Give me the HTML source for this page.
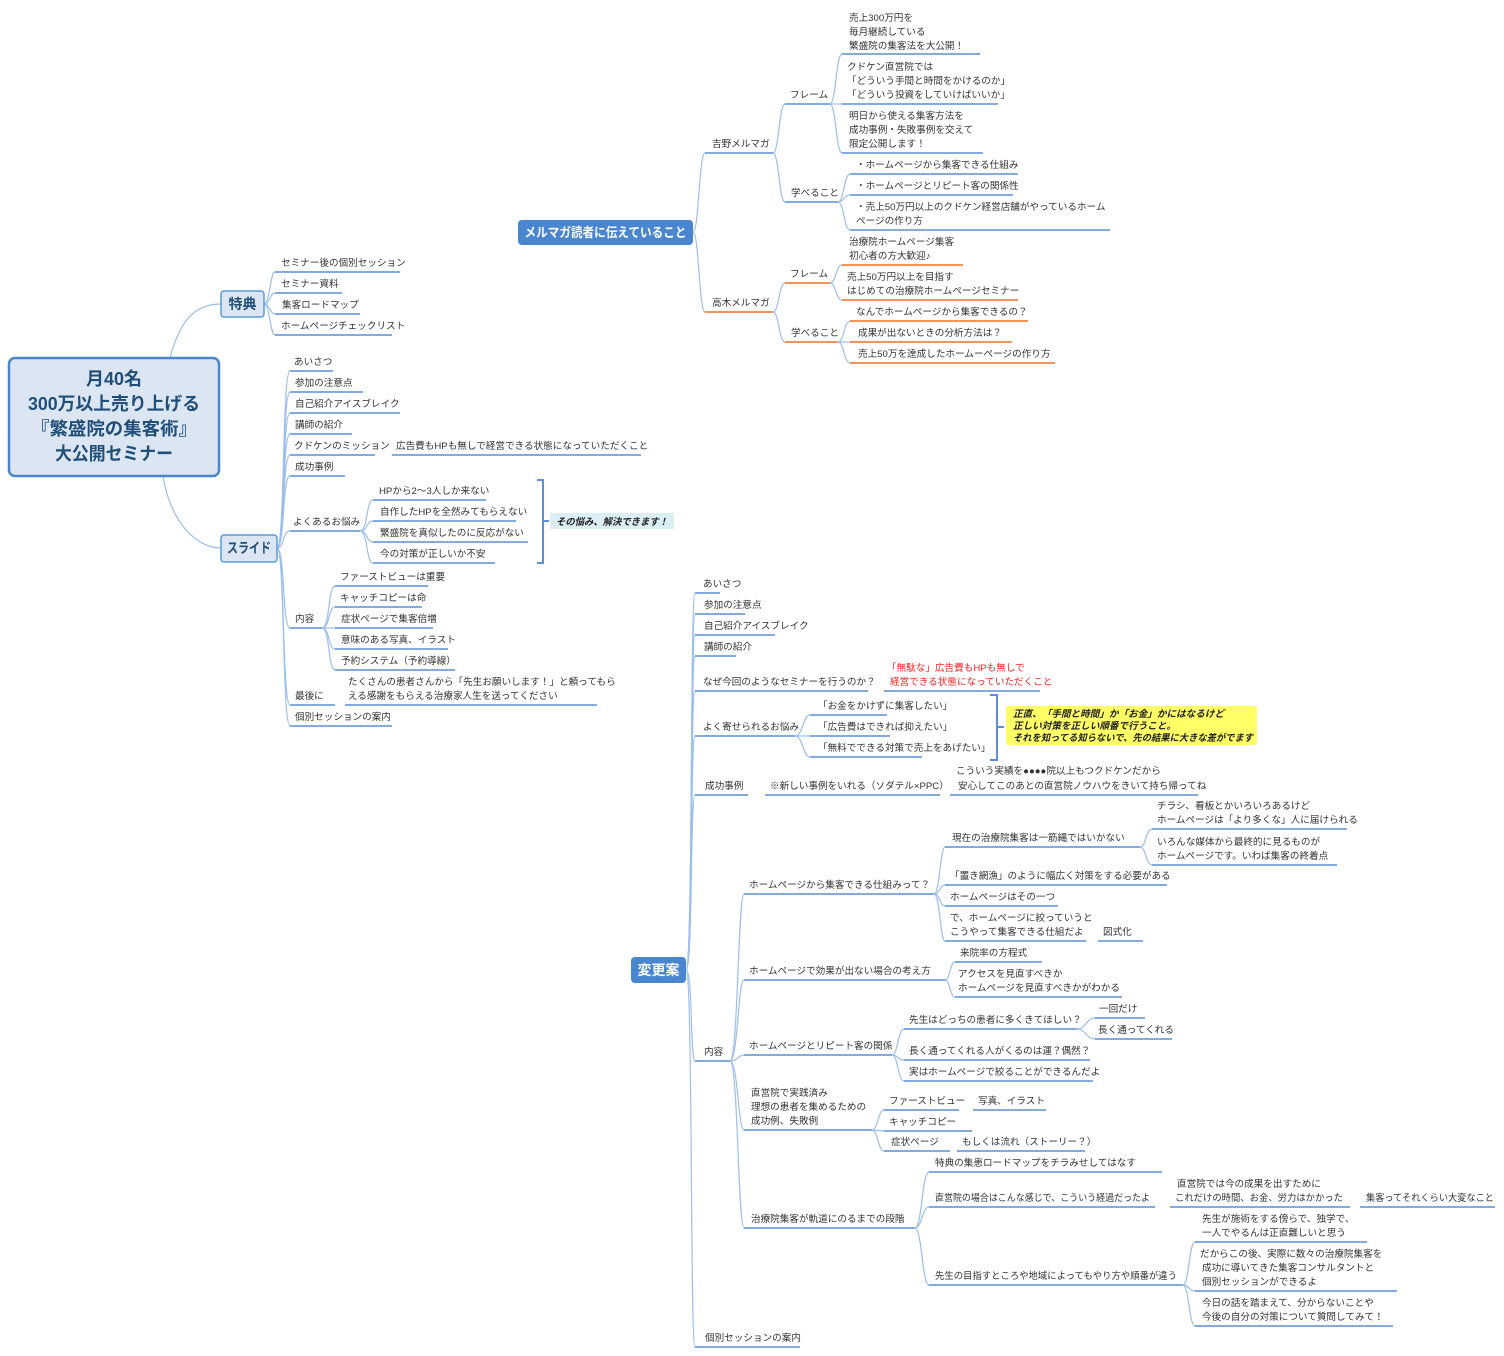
<!DOCTYPE html>
<html><head><meta charset="utf-8"><style>
html,body{margin:0;padding:0;background:#fff;}
svg{display:block;font-family:"Liberation Sans","Noto Sans CJK JP",sans-serif;}
.t{font-size:9.6px;fill:#333;}
.u{stroke:#5b8fd6;stroke-width:1.6;}
.o{stroke:#f07020;stroke-width:1.6;}
.c{fill:none;stroke:#9dbfe9;stroke-width:1.2;}
</style></head><body>
<svg width="1504" height="1356" viewBox="0 0 1504 1356" xmlns="http://www.w3.org/2000/svg">
<g class="c">
<path d="M693 232 C699 232,699 153,705 153"/><path d="M693 232 C699 232,699 312,705 312"/>
<path d="M773 153 C779 153,779 104,785 104"/><path d="M773 153 C779 153,779 202,785 202"/>
<path d="M830 104 C836 104,836 54,842 54"/><path d="M830 104 L842 104"/><path d="M830 104 C836 104,836 153,842 153"/>
<path d="M838 202 C844 202,844 174,850 174"/><path d="M838 202 C844 202,844 195,850 195"/><path d="M838 202 C844 202,844 230,850 230"/>
<path d="M773 312 C779 312,779 283,785 283"/><path d="M773 312 C779 312,779 342,785 342"/>
<path d="M830 283 C836 283,836 265,842 265"/><path d="M830 283 C836 283,836 300,842 300"/>
<path d="M838 342 C844 342,844 321,850 321"/><path d="M838 342 L850 342"/><path d="M838 342 C844 342,844 363,850 363"/>
<path d="M170 358 C180 320,195 304,221 304"/><path d="M163 476 C170 520,195 548,221 548"/>
<path d="M264 304 C270 304,270 272,275 272"/><path d="M264 304 C270 304,270 293,275 293"/><path d="M264 304 C270 304,270 314,275 314"/><path d="M264 304 C270 304,270 335,275 335"/>
<path d="M277 548 C285 548,282 371,290 371"/><path d="M277 548 C285 548,282 392,290 392"/><path d="M277 548 C285 548,282 413,290 413"/><path d="M277 548 C285 548,282 434,290 434"/><path d="M277 548 C285 548,282 455,290 455"/><path d="M277 548 C285 548,282 476,290 476"/><path d="M277 548 C285 548,282 531,290 531"/><path d="M277 548 C285 548,282 628,290 628"/><path d="M277 548 C285 548,282 705,290 705"/><path d="M277 548 C285 548,282 726,290 726"/>
<path d="M360 531 C368 531,366 500,373 500"/><path d="M360 531 C368 531,366 521,373 521"/><path d="M360 531 C368 531,366 542,373 542"/><path d="M360 531 C368 531,366 563,373 563"/>
<path d="M322 628 C330 628,328 586,335 586"/><path d="M322 628 C330 628,328 607,335 607"/><path d="M322 628 L335 628"/><path d="M322 628 C330 628,328 649,335 649"/><path d="M322 628 C330 628,328 670,335 670"/>
<path d="M686 970 C693 970,690 593,695 593"/><path d="M686 970 C693 970,690 614,695 614"/><path d="M686 970 C693 970,690 635,695 635"/><path d="M686 970 C693 970,690 656,695 656"/><path d="M686 970 C693 970,690 691,695 691"/><path d="M686 970 C693 970,690 736,695 736"/><path d="M686 970 C693 970,690 795,695 795"/><path d="M686 970 C693 970,690 1061,695 1061"/><path d="M686 970 C693 970,690 1347,695 1347"/>
<path d="M795 736 C803 736,803 715,810 715"/><path d="M795 736 L810 736"/><path d="M795 736 C803 736,803 757,810 757"/>
<path d="M730 1061 C738 1061,738 894,744 894"/><path d="M730 1061 C738 1061,738 980,744 980"/><path d="M730 1061 C738 1061,738 1055,744 1055"/><path d="M730 1061 C738 1061,738 1130,744 1130"/><path d="M730 1061 C738 1061,738 1228,744 1228"/>
<path d="M934 894 C940 894,940 847,945 847"/><path d="M934 894 C940 894,940 885,945 885"/><path d="M934 894 C940 894,940 906,945 906"/><path d="M934 894 C940 894,940 941,945 941"/>
<path d="M1140 847 C1146 847,1146 829,1152 829"/><path d="M1140 847 C1146 847,1146 865,1152 865"/>
<path d="M945 980 C950 980,950 962,955 962"/><path d="M945 980 C950 980,950 997,955 997"/>
<path d="M892 1055 C898 1055,898 1029,904 1029"/><path d="M892 1055 C898 1055,898 1060,904 1060"/><path d="M892 1055 C898 1055,898 1081,904 1081"/>
<path d="M1077 1029 C1086 1029,1086 1018,1095 1018"/><path d="M1077 1029 C1086 1029,1086 1039,1095 1039"/>
<path d="M872 1130 C878 1130,878 1110,884 1110"/><path d="M872 1130 L884 1131"/><path d="M872 1130 C878 1130,878 1151,884 1151"/>
<path d="M915 1228 C922 1228,922 1172,929 1172"/><path d="M915 1228 C922 1228,922 1207,929 1207"/><path d="M915 1228 C922 1228,922 1285,929 1285"/>
<path d="M1183 1285 C1189 1285,1189 1242,1195 1242"/><path d="M1183 1285 C1189 1285,1189 1291,1195 1291"/><path d="M1183 1285 C1189 1285,1189 1326,1195 1326"/>
</g>
<rect x="9" y="358" width="210" height="118" rx="6" fill="#dce6f2" stroke="#4a86d0" stroke-width="2.5"/>
<g font-size="18" font-weight="bold" fill="#1f4e79" text-anchor="middle">
<text x="114" y="385">月40名</text><text x="114" y="410" textLength="172" lengthAdjust="spacingAndGlyphs">300万以上売り上げる</text><text x="114" y="435" textLength="166" lengthAdjust="spacingAndGlyphs">『繁盛院の集客術』</text><text x="114" y="460" textLength="118" lengthAdjust="spacingAndGlyphs">大公開セミナー</text></g>
<rect x="221" y="291" width="43" height="26" rx="3" fill="#dce6f2" stroke="#5b9bd5" stroke-width="1.5"/>
<text x="242.5" y="309" font-size="14" font-weight="bold" fill="#1f4e79" text-anchor="middle">特典</text>
<rect x="221" y="535" width="56" height="27" rx="3" fill="#dce6f2" stroke="#5b9bd5" stroke-width="1.5"/>
<text x="249" y="553" font-size="14" font-weight="bold" fill="#1f4e79" text-anchor="middle" textLength="44" lengthAdjust="spacingAndGlyphs">スライド</text>
<rect x="518" y="220" width="175" height="25" rx="4" fill="#4a86d0"/>
<text x="605.5" y="237" font-size="13" font-weight="bold" fill="#fff" text-anchor="middle" textLength="162" lengthAdjust="spacingAndGlyphs">メルマガ読者に伝えていること</text>
<rect x="631" y="957" width="55" height="26" rx="4" fill="#4a86d0"/>
<text x="658.5" y="975" font-size="14" font-weight="bold" fill="#fff" text-anchor="middle">変更案</text>
<rect x="550" y="513" width="124" height="16" fill="#dbeef4"/>
<text x="556" y="525" font-size="9.6" font-weight="bold" font-style="italic" fill="#222" textLength="112" lengthAdjust="spacingAndGlyphs">その悩み、解決できます！</text>
<rect x="1006" y="706" width="251" height="39" rx="2" fill="#ffff66"/>
<g font-size="9.6" font-weight="bold" font-style="italic" fill="#222"><text x="1013" y="717">正直、「手間と時間」か「お金」かにはなるけど</text><text x="1013" y="729">正しい対策を正しい順番で行うこと。</text><text x="1013" y="741" textLength="240" lengthAdjust="spacingAndGlyphs">それを知ってる知らないで、先の結果に大きな差がでます</text></g>
<path d="M537 480 H543 V563 H537 M543 521 H549" fill="none" stroke="#5b8fd6" stroke-width="2"/>
<path d="M990 695 H997 V760 H990 M997 727 H1004" fill="none" stroke="#5b8fd6" stroke-width="2"/>
<g class="u">
<line x1="705" y1="153" x2="773" y2="153"/><line x1="785" y1="104" x2="830" y2="104"/><line x1="842" y1="54" x2="980" y2="54"/><line x1="842" y1="104" x2="998" y2="104"/><line x1="842" y1="153" x2="983" y2="153"/>
<line x1="785" y1="202" x2="838" y2="202"/><line x1="850" y1="174" x2="1018" y2="174"/><line x1="850" y1="195" x2="1013" y2="195"/><line x1="850" y1="230" x2="1110" y2="230"/>
<line x1="275" y1="272" x2="400" y2="272"/><line x1="275" y1="293" x2="342" y2="293"/><line x1="275" y1="314" x2="360" y2="314"/><line x1="275" y1="335" x2="392" y2="335"/>
<line x1="290" y1="371" x2="333" y2="371"/><line x1="290" y1="392" x2="363" y2="392"/><line x1="290" y1="413" x2="400" y2="413"/><line x1="290" y1="434" x2="352" y2="434"/><line x1="290" y1="455" x2="375" y2="455"/><line x1="392" y1="455" x2="641" y2="455"/><line x1="290" y1="476" x2="345" y2="476"/>
<line x1="290" y1="531" x2="360" y2="531"/><line x1="373" y1="500" x2="486" y2="500"/><line x1="373" y1="521" x2="516" y2="521"/><line x1="373" y1="542" x2="528" y2="542"/><line x1="373" y1="563" x2="495" y2="563"/>
<line x1="290" y1="628" x2="322" y2="628"/><line x1="335" y1="586" x2="428" y2="586"/><line x1="335" y1="607" x2="422" y2="607"/><line x1="335" y1="628" x2="433" y2="628"/><line x1="335" y1="649" x2="448" y2="649"/><line x1="335" y1="670" x2="455" y2="670"/>
<line x1="290" y1="705" x2="335" y2="705"/><line x1="345" y1="705" x2="597" y2="705"/><line x1="290" y1="726" x2="392" y2="726"/>
<line x1="695" y1="593" x2="720" y2="593"/><line x1="695" y1="614" x2="745" y2="614"/><line x1="695" y1="635" x2="775" y2="635"/><line x1="695" y1="656" x2="736" y2="656"/><line x1="695" y1="691" x2="868" y2="691"/><line x1="884" y1="691" x2="1040" y2="691"/>
<line x1="695" y1="736" x2="795" y2="736"/><line x1="810" y1="715" x2="887" y2="715"/><line x1="810" y1="736" x2="890" y2="736"/><line x1="810" y1="757" x2="922" y2="757"/>
<line x1="695" y1="795" x2="748" y2="795"/><line x1="765" y1="795" x2="940" y2="795"/><line x1="950" y1="795" x2="1198" y2="795"/>
<line x1="695" y1="1061" x2="730" y2="1061"/><line x1="744" y1="894" x2="934" y2="894"/><line x1="945" y1="847" x2="1140" y2="847"/><line x1="1152" y1="829" x2="1347" y2="829"/><line x1="1152" y1="865" x2="1337" y2="865"/>
<line x1="945" y1="885" x2="1167" y2="885"/><line x1="945" y1="906" x2="1058" y2="906"/><line x1="945" y1="941" x2="1086" y2="941"/><line x1="1098" y1="941" x2="1143" y2="941"/>
<line x1="744" y1="980" x2="945" y2="980"/><line x1="955" y1="962" x2="1042" y2="962"/><line x1="955" y1="997" x2="1122" y2="997"/>
<line x1="744" y1="1055" x2="892" y2="1055"/><line x1="904" y1="1029" x2="1077" y2="1029"/><line x1="1095" y1="1018" x2="1145" y2="1018"/><line x1="1095" y1="1039" x2="1172" y2="1039"/><line x1="904" y1="1060" x2="1090" y2="1060"/><line x1="904" y1="1081" x2="1093" y2="1081"/>
<line x1="744" y1="1130" x2="872" y2="1130"/><line x1="884" y1="1110" x2="959" y2="1110"/><line x1="973" y1="1110" x2="1046" y2="1110"/><line x1="884" y1="1131" x2="972" y2="1131"/><line x1="884" y1="1151" x2="950" y2="1151"/><line x1="957" y1="1151" x2="1085" y2="1151"/>
<line x1="744" y1="1228" x2="915" y2="1228"/><line x1="929" y1="1172" x2="1162" y2="1172"/><line x1="929" y1="1207" x2="1155" y2="1207"/><line x1="1170" y1="1207" x2="1350" y2="1207"/><line x1="1360" y1="1207" x2="1495" y2="1207"/>
<line x1="929" y1="1285" x2="1183" y2="1285"/><line x1="1195" y1="1242" x2="1367" y2="1242"/><line x1="1195" y1="1291" x2="1397" y2="1291"/><line x1="1195" y1="1326" x2="1393" y2="1326"/>
<line x1="695" y1="1347" x2="800" y2="1347"/>
</g>
<g class="o">
<line x1="705" y1="312" x2="773" y2="312"/><line x1="785" y1="283" x2="830" y2="283"/><line x1="842" y1="265" x2="963" y2="265"/><line x1="842" y1="300" x2="1018" y2="300"/>
<line x1="785" y1="342" x2="838" y2="342"/><line x1="850" y1="321" x2="1028" y2="321"/><line x1="850" y1="342" x2="1012" y2="342"/><line x1="850" y1="363" x2="1055" y2="363"/>
</g>
<g class="t">
<text x="712" y="147">吉野メルマガ</text><text x="790" y="98">フレーム</text>
<text x="849" y="21">売上300万円を</text><text x="849" y="35">毎月継続している</text><text x="849" y="49">繁盛院の集客法を大公開！</text>
<text x="847" y="70">クドケン直営院では</text><text x="847" y="84">「どういう手間と時間をかけるのか」</text><text x="847" y="98">「どういう投資をしていけばいいか」</text>
<text x="849" y="119">明日から使える集客方法を</text><text x="849" y="133">成功事例・失敗事例を交えて</text><text x="849" y="147">限定公開します！</text>
<text x="791" y="196">学べること</text><text x="856" y="168">・ホームページから集客できる仕組み</text><text x="856" y="189">・ホームページとリピート客の関係性</text><text x="856" y="210">・売上50万円以上のクドケン経営店舗がやっているホーム</text><text x="856" y="224">ページの作り方</text>
<text x="712" y="306">高木メルマガ</text><text x="790" y="277">フレーム</text>
<text x="849" y="245">治療院ホームページ集客</text><text x="849" y="259">初心者の方大歓迎♪</text><text x="847" y="280">売上50万円以上を目指す</text><text x="847" y="294">はじめての治療院ホームページセミナー</text>
<text x="791" y="336">学べること</text><text x="856" y="315">なんでホームページから集客できるの？</text><text x="858" y="336">成果が出ないときの分析方法は？</text><text x="858" y="357">売上50万を達成したホームーページの作り方</text>
<text x="281" y="266">セミナー後の個別セッション</text><text x="281" y="287">セミナー資料</text><text x="282" y="308">集客ロードマップ</text><text x="281" y="329">ホームページチェックリスト</text>
<text x="294" y="365">あいさつ</text><text x="295" y="386">参加の注意点</text><text x="295" y="407">自己紹介アイスブレイク</text><text x="295" y="428">講師の紹介</text><text x="294" y="449">クドケンのミッション</text><text x="396" y="449">広告費もHPも無しで経営できる状態になっていただくこと</text><text x="295" y="470">成功事例</text>
<text x="293" y="525">よくあるお悩み</text><text x="379" y="494">HPから2〜3人しか来ない</text><text x="380" y="515">自作したHPを全然みてもらえない</text><text x="380" y="536">繁盛院を真似したのに反応がない</text><text x="380" y="557">今の対策が正しいか不安</text>
<text x="295" y="622">内容</text><text x="340" y="580">ファーストビューは重要</text><text x="340" y="601">キャッチコピーは命</text><text x="341" y="622">症状ページで集客倍増</text><text x="341" y="643">意味のある写真、イラスト</text><text x="341" y="664">予約システム（予約導線）</text>
<text x="295" y="699">最後に</text><text x="348" y="685">たくさんの患者さんから「先生お願いします！」と頼ってもら</text><text x="348" y="699">える感謝をもらえる治療家人生を送ってください</text><text x="295" y="720">個別セッションの案内</text>
<text x="703" y="587">あいさつ</text><text x="704" y="608">参加の注意点</text><text x="704" y="629">自己紹介アイスブレイク</text><text x="704" y="650">講師の紹介</text>
<text x="703" y="685">なぜ今回のようなセミナーを行うのか？</text>
<text x="887" y="671" fill="#ff2020">「無駄な」広告費もHPも無しで</text><text x="890" y="685" fill="#ff2020">経営できる状態になっていただくこと</text>
<text x="703" y="730">よく寄せられるお悩み</text><text x="818" y="709">「お金をかけずに集客したい」</text><text x="818" y="730">「広告費はできれば抑えたい」</text><text x="818" y="751">「無料でできる対策で売上をあげたい」</text>
<text x="705" y="789">成功事例</text><text x="770" y="789">※新しい事例をいれる（ソダテル×PPC）</text><text x="956" y="774">こういう実績を●●●●院以上もつクドケンだから</text><text x="958" y="789">安心してこのあとの直営院ノウハウをきいて持ち帰ってね</text>
<text x="704" y="1055">内容</text><text x="749" y="888">ホームページから集客できる仕組みって？</text>
<text x="952" y="841">現在の治療院集客は一筋縄ではいかない</text><text x="1157" y="809">チラシ、看板とかいろいろあるけど</text><text x="1157" y="823">ホームページは「より多くな」人に届けられる</text><text x="1157" y="845">いろんな媒体から最終的に見るものが</text><text x="1157" y="859">ホームページです。いわば集客の終着点</text>
<text x="950" y="879">「置き網漁」のように幅広く対策をする必要がある</text><text x="950" y="900">ホームページはその一つ</text><text x="950" y="921">で、ホームページに絞っていうと</text><text x="950" y="935">こうやって集客できる仕組だよ</text><text x="1103" y="935">図式化</text>
<text x="749" y="974">ホームページで効果が出ない場合の考え方</text><text x="960" y="956">来院率の方程式</text><text x="958" y="977">アクセスを見直すべきか</text><text x="958" y="991">ホームページを見直すべきかがわかる</text>
<text x="749" y="1049">ホームページとリピート客の関係</text><text x="909" y="1023">先生はどっちの患者に多くきてほしい？</text><text x="1099" y="1012">一回だけ</text><text x="1098" y="1033">長く通ってくれる</text><text x="909" y="1054">長く通ってくれる人がくるのは運？偶然？</text><text x="909" y="1075">実はホームページで絞ることができるんだよ</text>
<text x="751" y="1096">直営院で実践済み</text><text x="751" y="1110">理想の患者を集めるための</text><text x="751" y="1124">成功例、失敗例</text>
<text x="889" y="1104">ファーストビュー</text><text x="978" y="1104">写真、イラスト</text><text x="889" y="1125">キャッチコピー</text><text x="891" y="1145">症状ページ</text><text x="962" y="1145">もしくは流れ（ストーリー？）</text>
<text x="751" y="1222">治療院集客が軌道にのるまでの段階</text><text x="935" y="1166">特典の集患ロードマップをチラみせしてはなす</text><text x="935" y="1201" textLength="215" lengthAdjust="spacingAndGlyphs">直営院の場合はこんな感じで、こういう経過だったよ</text>
<text x="1177" y="1187">直営院では今の成果を出すために</text><text x="1175" y="1201" textLength="168" lengthAdjust="spacingAndGlyphs">これだけの時間、お金、労力はかかった</text><text x="1366" y="1201" textLength="128" lengthAdjust="spacingAndGlyphs">集客ってそれくらい大変なこと</text>
<text x="935" y="1279" textLength="242" lengthAdjust="spacingAndGlyphs">先生の目指すところや地域によってもやり方や順番が違う</text>
<text x="1202" y="1222">先生が施術をする傍らで、独学で、</text><text x="1202" y="1236">一人でやるんは正直難しいと思う</text>
<text x="1200" y="1257">だからこの後、実際に数々の治療院集客を</text><text x="1202" y="1271">成功に導いてきた集客コンサルタントと</text><text x="1202" y="1285">個別セッションができるよ</text>
<text x="1202" y="1306">今日の話を踏まえて、分からないことや</text><text x="1202" y="1320">今後の自分の対策について質問してみて！</text>
<text x="705" y="1341">個別セッションの案内</text>
</g>
</svg>
</body></html>
